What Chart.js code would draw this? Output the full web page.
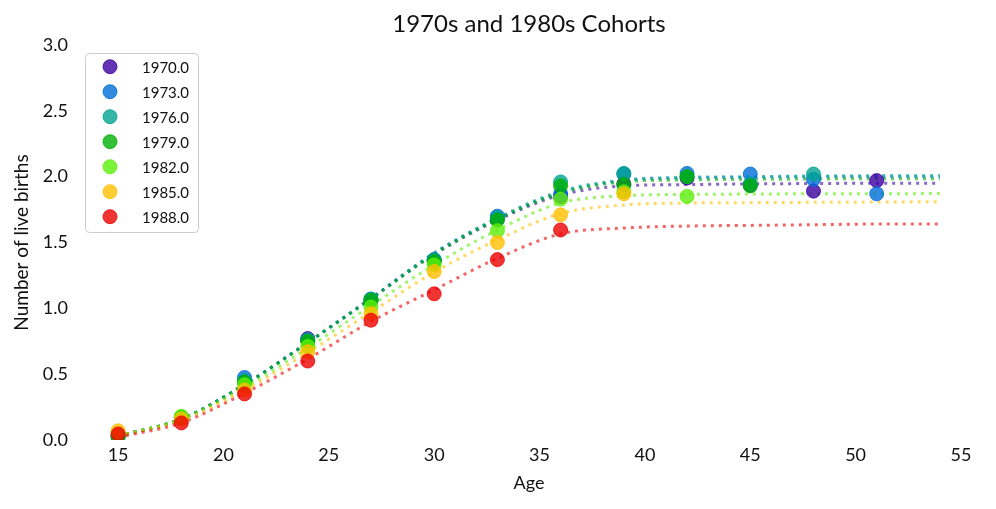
<!DOCTYPE html>
<html>
<head>
<meta charset="utf-8">
<script src="https://cdn.jsdelivr.net/npm/chart.js@4"></script>
<style>
  html, body { margin: 0; padding: 0; background: #fff; }
  #wrap { width: 996px; height: 509px; }
</style>
</head>
<body>
<div id="wrap"><canvas id="c" width="996" height="509"></canvas></div>
<script>
// ---- data ----
const chartTitle = '1970s and 1980s Cohorts';
const cohortLabels = ['1970.0', '1973.0', '1976.0', '1979.0', '1982.0', '1985.0', '1988.0'];
const obsAges = [15, 18, 21, 24, 27, 30, 33, 36, 39, 42, 45, 48, 51];
const obs1970 = [0.03, 0.17, 0.44, 0.77, 1.06, 1.36, 1.68, 1.85, 1.945, 1.99, 1.935, 1.89, 1.97];
const obs1973 = [0.03, 0.17, 0.475, 0.76, 1.07, 1.37, 1.70, 1.87, 2.02, 2.025, 2.02, 1.98, 1.87];
const obs1976 = [0.03, 0.17, 0.45, 0.76, 1.07, 1.37, 1.69, 1.96, 2.025, 2.00, 1.945, 2.02];
const obs1979 = [0.02, 0.17, 0.44, 0.75, 1.06, 1.355, 1.67, 1.93, 1.94, 2.00, 1.93];
const obs1982 = [0.05, 0.18, 0.42, 0.71, 1.01, 1.33, 1.59, 1.83, 1.885, 1.85];
const obs1985 = [0.07, 0.16, 0.38, 0.67, 0.96, 1.28, 1.50, 1.71, 1.87];
const obs1988 = [0.045, 0.13, 0.35, 0.60, 0.91, 1.11, 1.37, 1.595];

const fitAges = [15, 18, 21, 24, 27, 30, 33, 36, 39, 42, 45, 48, 51, 54];
const fit1970 = [0.03, 0.16, 0.42, 0.74, 1.075, 1.41, 1.67, 1.86, 1.93, 1.94, 1.945, 1.948, 1.95, 1.95];
const fit1973 = [0.03, 0.16, 0.42, 0.74, 1.075, 1.42, 1.68, 1.88, 1.97, 1.99, 1.995, 2.0, 2.0, 2.0];
const fit1976 = [0.03, 0.16, 0.42, 0.74, 1.075, 1.42, 1.685, 1.89, 1.975, 1.995, 2.0, 2.005, 2.008, 2.01];
const fit1979 = [0.03, 0.16, 0.42, 0.74, 1.07, 1.41, 1.675, 1.875, 1.96, 1.975, 1.98, 1.982, 1.985, 1.985];
const fit1982 = [0.03, 0.16, 0.40, 0.70, 1.02, 1.33, 1.595, 1.80, 1.855, 1.865, 1.868, 1.87, 1.87, 1.872];
const fit1985 = [0.03, 0.15, 0.38, 0.665, 0.97, 1.275, 1.52, 1.72, 1.785, 1.80, 1.803, 1.805, 1.807, 1.81];
const fit1988 = [0.02, 0.13, 0.355, 0.615, 0.90, 1.14, 1.38, 1.565, 1.61, 1.625, 1.63, 1.635, 1.64, 1.64];

const xTicks = [15, 20, 25, 30, 35, 40, 45, 50, 55];
const yTicks = [0, 0.5, 1.0, 1.5, 2.0, 2.5, 3.0];

const obsSeries = [obs1970, obs1973, obs1976, obs1979, obs1982, obs1985, obs1988];
const fitSeries = [fit1970, fit1973, fit1976, fit1979, fit1982, fit1985, fit1988];
const baseRGB = [[61, 0, 161], [0, 110, 216], [0, 162, 146], [0, 176, 4], [92, 239, 9], [255, 191, 0], [236, 0, 0]];

const FONT = 'Lato, "Open Sans", sans-serif';
const rgba = (c, a) => `rgba(${c[0]},${c[1]},${c[2]},${a})`;

const datasets = [];
cohortLabels.forEach((lab, i) => {
  datasets.push({
    label: lab + ' fit',
    data: fitAges.map((a, j) => ({ x: a, y: fitSeries[i][j] })),
    showLine: true,
    borderColor: rgba(baseRGB[i], 0.6),
    borderWidth: 3,
    borderDash: [3, 5],
    borderCapStyle: 'butt',
    pointRadius: 0,
    pointHoverRadius: 0,
    cubicInterpolationMode: 'monotone',
    fill: false,
    clip: 0,
    order: 100 + (cohortLabels.length - 1 - i)
  });
});
cohortLabels.forEach((lab, i) => {
  datasets.push({
    label: lab,
    data: obsSeries[i].map((v, j) => ({ x: obsAges[j], y: v })),
    showLine: false,
    backgroundColor: rgba(baseRGB[i], 0.8),
    borderColor: rgba(baseRGB[i], 0.8),
    borderWidth: 1,
    pointRadius: 7,
    pointHoverRadius: 7,
    clip: 0,
    order: cohortLabels.length - 1 - i
  });
});

const decorPlugin = {
  id: 'decor',
  afterDraw(chart) {
    const ctx = chart.ctx;
    const area = chart.chartArea;
    ctx.save();
    // title centred over the plot area
    ctx.font = '24px ' + FONT;
    ctx.fillStyle = '#111';
    ctx.textAlign = 'center';
    ctx.textBaseline = 'middle';
    ctx.fillText(chartTitle, (area.left + area.right) / 2, 24);

    // legend box
    const x0 = 85.5, y0 = 53.5, w = 113, h = 179;
    ctx.beginPath();
    ctx.roundRect(x0, y0, w, h, 4);
    ctx.fillStyle = 'rgba(255,255,255,0.8)';
    ctx.fill();
    ctx.strokeStyle = 'rgba(204,204,204,1)';
    ctx.lineWidth = 1;
    ctx.stroke();
    ctx.font = '15px ' + FONT;
    ctx.textBaseline = 'middle';
    ctx.textAlign = 'left';
    cohortLabels.forEach((lab, i) => {
      const cy = 66.7 + i * 25.0;
      ctx.beginPath();
      ctx.arc(110, cy, 7, 0, Math.PI * 2);
      ctx.fillStyle = rgba(baseRGB[i], 0.8);
      ctx.fill();
      ctx.strokeStyle = rgba(baseRGB[i], 0.8);
      ctx.stroke();
      ctx.fillStyle = '#111';
      ctx.fillText(lab, 142, cy + 1);
    });
    ctx.restore();
  }
};

new Chart(document.getElementById('c'), {
  type: 'scatter',
  data: { datasets },
  plugins: [decorPlugin],
  options: {
    responsive: false,
    animation: false,
    events: [],
    layout: { padding: { left: 0, right: 15, top: 45, bottom: 0 } },
    plugins: {
      legend: { display: false },
      tooltip: { enabled: false },
      title: { display: false }
    },
    scales: {
      x: {
        type: 'linear',
        min: 13.05,
        max: 55.95,
        grid: { display: false },
        border: { display: false },
        ticks: { color: '#111', padding: -4, font: { family: FONT, size: 18 }, callback: v => String(v) },
        afterBuildTicks: s => { s.ticks = xTicks.map(v => ({ value: v })); },
        afterFit: s => { s.height = 69; },
        title: { display: true, text: 'Age', color: '#111', font: { family: FONT, size: 18 }, padding: { top: 0, bottom: 15 } }
      },
      y: {
        type: 'linear',
        min: 0,
        max: 3,
        grid: { display: false },
        border: { display: false },
        ticks: { color: '#111', padding: 1, font: { family: FONT, size: 18 }, callback: v => Number(v).toFixed(1) },
        afterBuildTicks: s => { s.ticks = yTicks.map(v => ({ value: v })); },
        afterFit: s => { s.width = 77; },
        title: { display: true, text: 'Number of live births', color: '#111', font: { family: FONT, size: 19 }, padding: { top: 10, bottom: 0 } }
      }
    }
  }
});
</script>
</body>
</html>
